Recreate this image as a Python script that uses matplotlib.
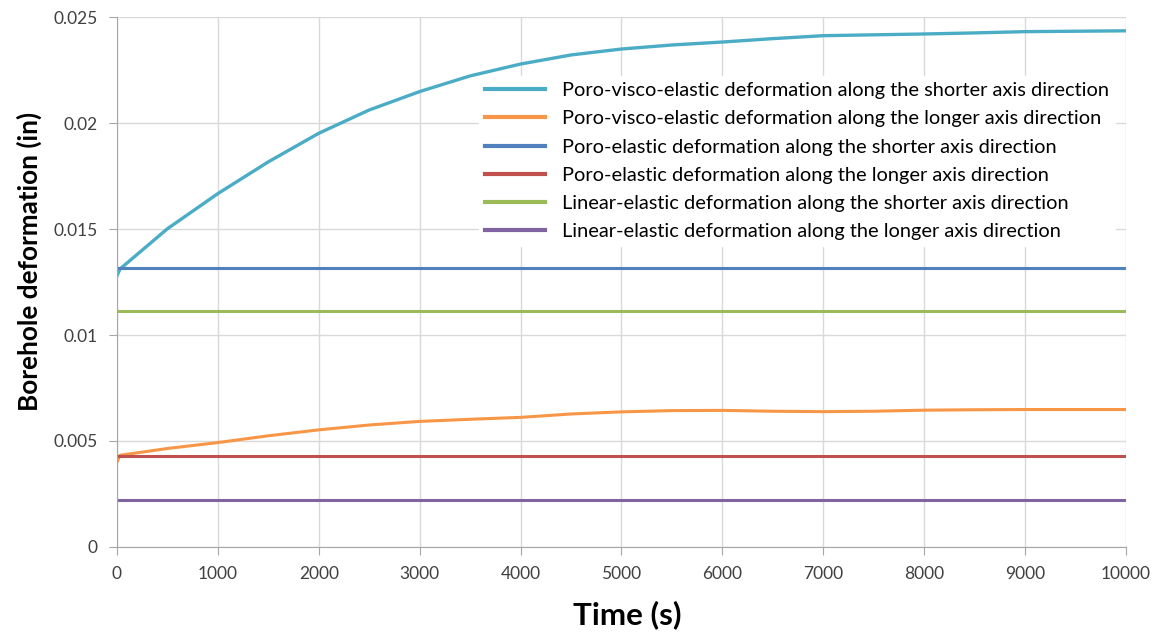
import matplotlib
matplotlib.use("Agg")
import matplotlib.pyplot as plt

plt.rcParams['font.family'] = ['Lato', 'DejaVu Sans']

time_s = [0, 30, 500, 1000, 1500, 2000, 2500, 3000, 3500, 4000, 4500, 5000,
          5500, 6000, 6500, 7000, 7500, 8000, 8500, 9000, 9500, 10000]
pve_short = [0.0128, 0.01312, 0.01502, 0.01668, 0.01818, 0.01953, 0.02063, 0.0215,
             0.02224, 0.0228, 0.02323, 0.02351, 0.0237, 0.02384, 0.024, 0.02414,
             0.02418, 0.02422, 0.02427, 0.02433, 0.02435, 0.02437]
pve_long = [0.0040, 0.00432, 0.00464, 0.00492, 0.00524, 0.00552, 0.00575, 0.00592,
            0.00602, 0.00611, 0.00627, 0.00637, 0.00643, 0.00644, 0.0064, 0.00638,
            0.0064, 0.00645, 0.00647, 0.00648, 0.00648, 0.00648]
pe_short = 0.01315
pe_long = 0.00429
le_short = 0.01114
le_long = 0.00223

labels = [
    "Poro-visco-elastic deformation along the shorter axis direction",
    "Poro-visco-elastic deformation along the longer axis direction",
    "Poro-elastic deformation along the shorter axis direction",
    "Poro-elastic deformation along the longer axis direction",
    "Linear-elastic deformation along the shorter axis direction",
    "Linear-elastic deformation along the longer axis direction",
]
colors = ["#4BACC6", "#F79646", "#4F81BD", "#C0504D", "#9BBB59", "#8064A2"]

fig = plt.figure(figsize=(11.57, 6.33), dpi=100)
ax = fig.add_axes([0.1011, 0.1363, 0.8721, 0.8361])

t0, t1 = time_s[0], time_s[-1]
ax.plot(time_s, pve_short, color=colors[0], lw=2.4, label=labels[0])
ax.plot(time_s, pve_long, color=colors[1], lw=2.2, label=labels[1])
ax.plot([t0, t1], [pe_short, pe_short], color=colors[2], lw=2.2, label=labels[2])
ax.plot([t0, t1], [pe_long, pe_long], color=colors[3], lw=2.2, label=labels[3])
ax.plot([t0, t1], [le_short, le_short], color=colors[4], lw=2.2, label=labels[4])
ax.plot([t0, t1], [le_long, le_long], color=colors[5], lw=2.2, label=labels[5])

ax.set_xlim(0, 10000)
ax.set_ylim(0, 0.025)
ax.set_xticks(range(0, 10001, 1000))
ax.set_yticks([0, 0.005, 0.01, 0.015, 0.02, 0.025])
ax.set_yticklabels(["0", "0.005", "0.01", "0.015", "0.02", "0.025"])
ax.grid(True, color="#D9D9D9", lw=1)
ax.set_axisbelow(True)
for s in ["top", "right"]:
    ax.spines[s].set_visible(False)
for s in ["left", "bottom"]:
    ax.spines[s].set_color("#A6A6A6")
ax.tick_params(axis="both", direction="out", length=6, color="#A6A6A6",
               labelsize=12.5, labelcolor="#404040", pad=8)

ax.set_xlabel("Time (s)", fontsize=22.6, fontweight="bold")
ax.xaxis.set_label_coords(0.506, -0.102)
ax.set_ylabel("Borehole deformation (in)", fontsize=18.8, fontweight="bold")
ax.yaxis.set_label_coords(-0.074, 0.539)

leg = ax.legend(loc="upper left", bbox_to_anchor=(0.3588, 0.889), frameon=True,
                fontsize=14.4, handlelength=3.0, handletextpad=0.85,
                labelspacing=0.56, borderpad=0.3, borderaxespad=0)
leg.get_frame().set_facecolor("white")
leg.get_frame().set_edgecolor("white")
leg.get_frame().set_alpha(1)
for line in leg.get_lines():
    line.set_linewidth(3)

fig.savefig("out.png", dpi=100)
